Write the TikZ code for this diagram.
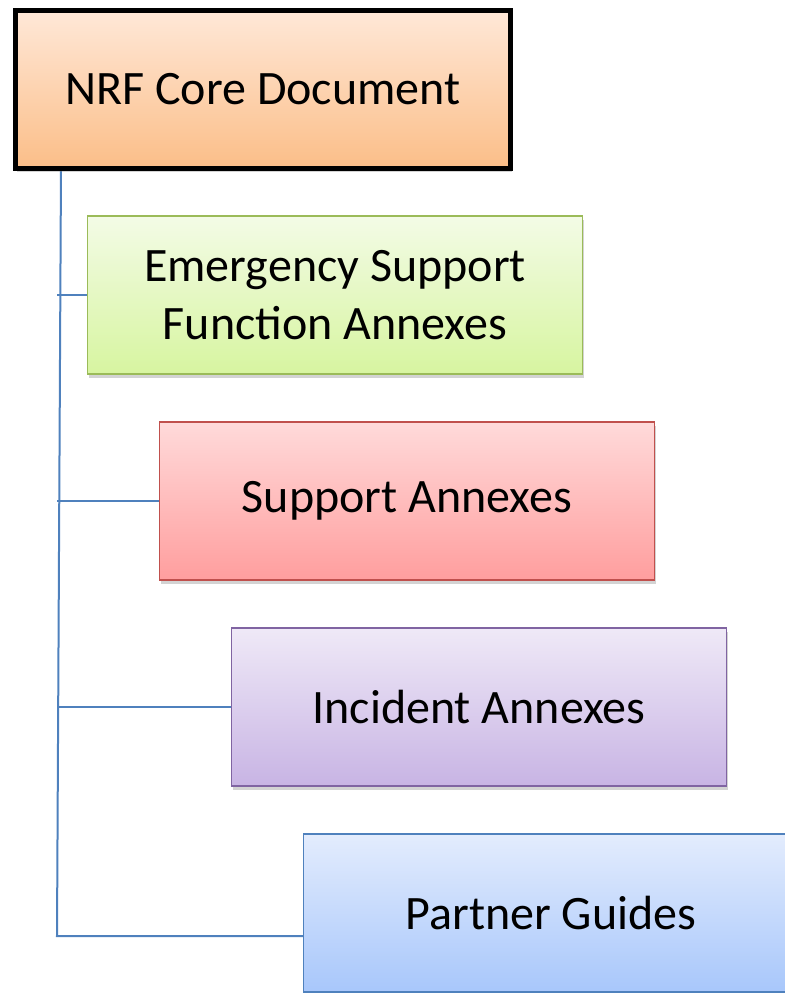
\documentclass[tikz,border=0pt]{standalone}
\usepackage{fontspec}
\setmainfont{Carlito}
\usepackage{xcolor}
\usetikzlibrary{positioning, calc, shadows, backgrounds}
\definecolor{nrftop}{HTML}{FFE8D8}
\definecolor{nrfbot}{HTML}{FBBE88}
\definecolor{esfline}{HTML}{9BBB59}
\definecolor{esftop}{HTML}{F3FBE6}
\definecolor{esfbot}{HTML}{D7F5A0}
\definecolor{supline}{HTML}{C0504D}
\definecolor{suptop}{HTML}{FFDADA}
\definecolor{supbot}{HTML}{FF9E9E}
\definecolor{incline}{HTML}{8064A2}
\definecolor{inctop}{HTML}{EFE9F7}
\definecolor{incbot}{HTML}{C8B4E4}
\definecolor{ptrline}{HTML}{4F81BD}
\definecolor{ptrtop}{HTML}{E3ECFD}
\definecolor{ptrbot}{HTML}{A8C7FB}
\definecolor{linkblue}{HTML}{4F81BD}
\tikzset{
    doc/.style={
        rectangle,
        draw=black,
        line width=1.5bp,
        minimum width=495bp,
        minimum height=158bp,
        inner sep=0pt,
        outer sep=0pt,
        align=center,
        font=\fontsize{48bp}{58bp}\selectfont,
        drop shadow={shadow xshift=1.5bp, shadow yshift=-3.5bp, opacity=0.35}
    },
    link/.style={
        draw=linkblue,
        line width=2bp
    }
}

\begin{document}
\begin{tikzpicture}[x=1bp, y=-1bp, node distance=48bp and 72bp]
\useasboundingbox (0,0) rectangle (785,993);

% Core document
\node[doc, line width=5bp, top color=nrftop, bottom color=nrfbot] (nrf) at (263,89) {NRF Core Document};

% Annexes
\node[doc, draw=esfline, top color=esftop, bottom color=esfbot, below=48bp of nrf, xshift=72bp] (esf) {Emergency Support\\Function Annexes};
\node[doc, draw=supline, top color=suptop, bottom color=supbot, below=48bp of esf, xshift=72bp] (support) {Support Annexes};
\node[doc, draw=incline, top color=inctop, bottom color=incbot, below=48bp of support, xshift=72bp] (incident) {Incident Annexes};

% Guides
\node[doc, draw=ptrline, top color=ptrtop, bottom color=ptrbot, below=48bp of incident, xshift=72bp] (partner) {Partner Guides};

% Tree lines
\begin{scope}[on background layer]
\coordinate (top) at ($(nrf.south west)+(45.5,0)$);
\coordinate (corner) at ($(top |- partner.west)+(-4,23)$);
\draw[link] (top) -- (corner) -- (corner -| partner.west);
\foreach \b in {esf, support, incident}
    \draw[link] (\b.west) -- (\b.west -| corner);
\end{scope}

\end{tikzpicture}
\end{document}
